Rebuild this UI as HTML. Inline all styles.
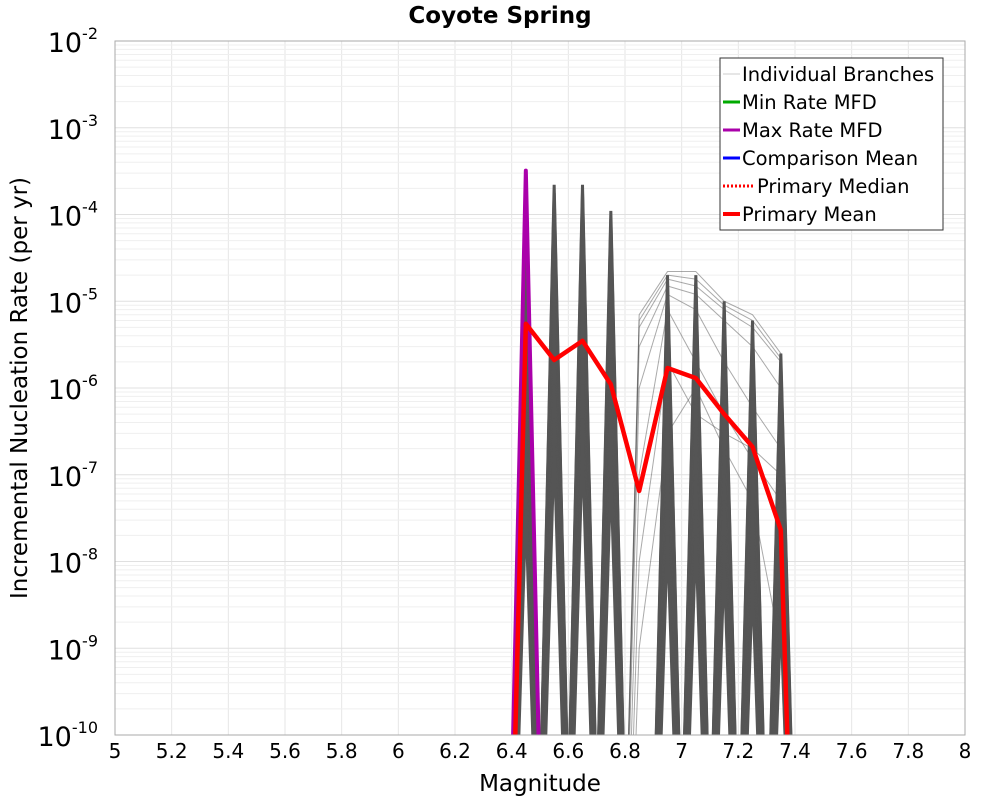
<!DOCTYPE html>
<html><head><meta charset="utf-8"><style>
html,body{margin:0;padding:0;background:#fff;overflow:hidden;width:1000px;height:800px;}
svg{display:block;}
svg text{font-family:"DejaVu Sans","Liberation Sans",sans-serif;}
</style></head><body>
<svg id="chart" width="1000" height="800" xmlns="http://www.w3.org/2000/svg">
<defs><clipPath id="clip"><rect x="115" y="41" width="850" height="694"/></clipPath></defs>
<text x="500" y="23" font-size="23" font-weight="bold" text-anchor="middle">Coyote Spring</text>
<g id="grid"></g>
<g id="marks" clip-path="url(#clip)"></g>
<rect x="115" y="41" width="850" height="694" fill="none" stroke="#aaa"/>
<g id="axes"></g>
<text x="540" y="791" font-size="23" text-anchor="middle">Magnitude</text>
<text transform="translate(27,388) rotate(-90)" font-size="23" text-anchor="middle">Incremental Nucleation Rate (per yr)</text>
<g>
<rect x="720" y="58" width="223" height="172" fill="#fff" stroke="#333"/>
<g><line x1="723" y1="74" x2="740" y2="74" stroke="#ccc"/><text x="742" y="81" font-size="19.5">Individual Branches</text></g>
<g><line x1="723" y1="102" x2="740" y2="102" stroke="#0a0" stroke-width="3"/><text x="742" y="109" font-size="19.5">Min Rate MFD</text></g>
<g><line x1="723" y1="130" x2="740" y2="130" stroke="#a0a" stroke-width="3"/><text x="742" y="137" font-size="19.5">Max Rate MFD</text></g>
<g><line x1="723" y1="158" x2="740" y2="158" stroke="#00f" stroke-width="3"/><text x="742" y="165" font-size="19.5">Comparison Mean</text></g>
<g><line x1="723" y1="186" x2="754" y2="186" stroke="red" stroke-width="3" stroke-dasharray="2,2"/><text x="757" y="193" font-size="19.5">Primary Median</text></g>
<g><line x1="723" y1="214" x2="740" y2="214" stroke="red" stroke-width="4"/><text x="742" y="221" font-size="19.5">Primary Mean</text></g>
</g>
</svg>
<script>
const xTicks=[5,5.2,5.4,5.6,5.8,6,6.2,6.4,6.6,6.8,7,7.2,7.4,7.6,7.8,8];
const xTickLabels=["5","5.2","5.4","5.6","5.8","6","6.2","6.4","6.6","6.8","7","7.2","7.4","7.6","7.8","8"];
const yExps=[-2,-3,-4,-5,-6,-7,-8,-9,-10];
const mags=[6.35,6.45,6.55,6.65,6.75,6.85,6.95,7.05,7.15,7.25,7.35,7.45];
const meanRates=[1e-18,5.5e-6,2.1e-6,3.5e-6,1.1e-6,6.5e-8,1.7e-6,1.3e-6,5e-7,2.1e-7,2.3e-8,1e-18];
const maxRates=[1e-18,3.2e-4,1e-18,1e-18,1e-18,1e-18,1e-18,1e-18,1e-18,1e-18,1e-18,1e-18];
const spikeMags=[6.45,6.55,6.65,6.75,6.95,7.05,7.15,7.25,7.35];
const spikePeaks=[4e-5,2.2e-4,2.2e-4,1.1e-4,2e-5,2e-5,1e-5,6e-6,2.5e-6];
const spikeFractions=[1,0.8,0.6,0.45,0.3,0.2,0.12,0.07,0.04,0.02,0.01,0.005,0.002,0.001];
const upperBranches=[
[1e-18,1e-18,1e-18,1e-18,1e-18,7e-6,2.2e-5,2.2e-5,1e-5,7e-6,2.5e-6,1e-18],
[1e-18,1e-18,1e-18,1e-18,1e-18,6e-6,2e-5,1.8e-5,9e-6,6e-6,2.2e-6,1e-18],
[1e-18,1e-18,1e-18,1e-18,1e-18,5e-6,1.8e-5,1.5e-5,8e-6,5e-6,2e-6,1e-18],
[1e-18,1e-18,1e-18,1e-18,1e-18,3e-6,1.5e-5,1.2e-5,6e-6,3e-6,1e-6,1e-18],
[1e-18,1e-18,1e-18,1e-18,1e-18,1e-6,1.2e-5,8e-6,2e-6,6e-7,2e-7,1e-18],
[1e-18,1e-18,1e-18,1e-18,1e-18,1e-7,8e-6,2e-6,5e-7,1.5e-7,5e-8,1e-18],
[1e-18,1e-18,1e-18,1e-18,1e-18,1e-8,2e-6,5e-7,3e-7,2e-7,1e-7,1e-18],
[1e-18,1e-18,1e-18,1e-18,1e-18,1e-9,3e-7,1e-6,2e-7,5e-8,1e-9,1e-18]];
const X=m=>115+(m-5)/3*850;
const Y=v=>41+(-2-Math.log10(v))/8*694;
const NS="http://www.w3.org/2000/svg";
function mk(tag,attrs,parent){const e=document.createElementNS(NS,tag);for(const k in attrs)e.setAttribute(k,attrs[k]);parent.appendChild(e);return e;}
const grid=document.getElementById('grid'),axes=document.getElementById('axes'),marks=document.getElementById('marks');
xTicks.forEach((t,i)=>{
 const l=mk('line',{x1:X(t),x2:X(t),y1:41,y2:735,stroke:'#e6e6e6'},grid);
 
 
 const tx=mk('text',{x:X(t),y:758,'font-size':20,'text-anchor':'middle'},axes);
 tx.textContent=xTickLabels[i];
 
 
});
yExps.forEach(e=>{
 if(e>-10){for(let k=1;k<10;k++){
  const v=k*Math.pow(10,e-1);
  const l=mk('line',{x1:115,x2:965,y1:Y(v),y2:Y(v),stroke:k==1?'#e0e0e0':'#efefef'},grid);
  
  
 }}
 const tx=mk('text',{x:98,y:Y(Math.pow(10,e))+11,'font-size':27,'text-anchor':'end'},axes);
 
 
 tx.innerHTML='10<tspan dy="-13" font-size="16">'+e+'</tspan>';
});
function poly(vals,stroke,w,op,name){
 const p=mk('polyline',{points:vals.map((v,i)=>X(mags[i])+','+Y(v)).join(' '),fill:'none',stroke:stroke,'stroke-width':w,'stroke-opacity':op,'stroke-linejoin':'round'},marks);
 
 
}
upperBranches.forEach(b=>poly(b,'#555',1,0.5,'branch-line'));
spikeMags.forEach((m,i)=>{
 spikeFractions.forEach(f=>{
  const pk=spikePeaks[i]*f;
  const p=mk('polyline',{points:X(m-0.1)+','+Y(1e-18)+' '+X(m)+','+Y(pk)+' '+X(m+0.1)+','+Y(1e-18),fill:'none',stroke:'#555','stroke-width':3,'stroke-linejoin':'miter'},marks);
  
  
 });
});
poly(maxRates,'#a0a',4,1,'max-rate-mfd');
poly(meanRates,'red',4.5,1,'primary-mean');
</script>
</body></html>
